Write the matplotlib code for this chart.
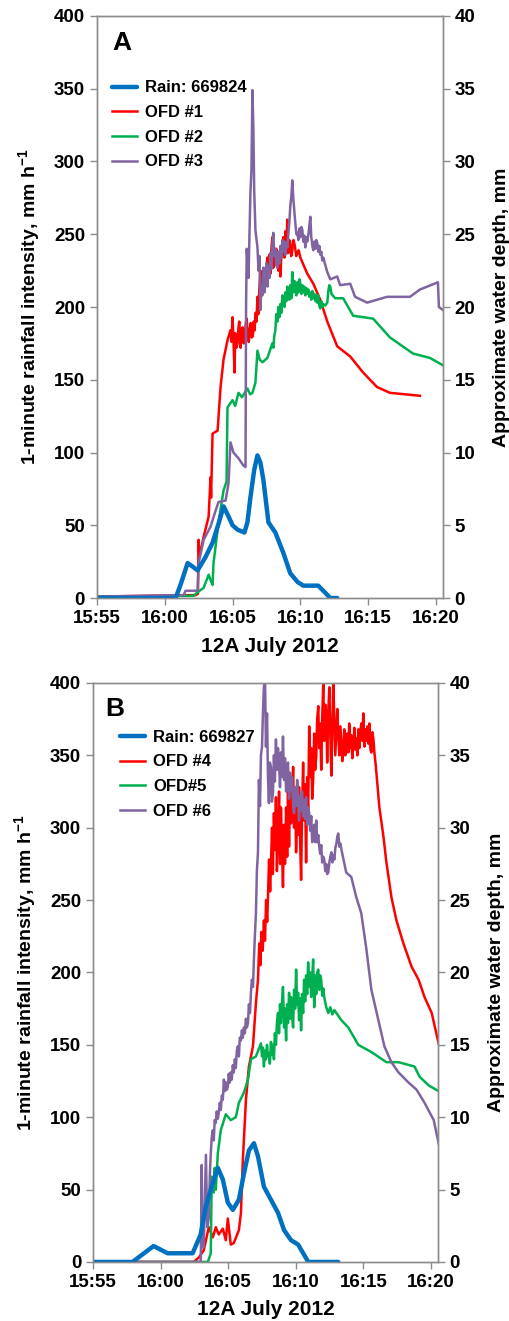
import matplotlib
matplotlib.use("Agg")
import matplotlib.pyplot as plt

plt.rcParams['font.family'] = ['Liberation Sans', 'DejaVu Sans']
plt.rcParams['font.weight'] = 'bold'
plt.rcParams['mathtext.fontset'] = 'custom'
plt.rcParams['mathtext.rm'] = 'Liberation Sans:bold'
plt.rcParams['mathtext.bf'] = 'Liberation Sans:bold'

# time in minutes after 15:55
tick_minutes = [0, 5, 10, 15, 20, 25]
tick_labels = ['15:55', '16:00', '16:05', '16:10', '16:15', '16:20']

# ---- panel A (rain in mm/h, OFD depth in mm) ----
rain_a_t = [0, 5.81, 6.2, 6.69, 7.0, 7.43, 8.0, 8.53, 9.0, 9.34, 9.71, 10.0, 10.37, 10.88, 11.1,
            11.32, 11.6, 11.84, 12.06, 12.28, 12.65, 13.16, 13.75, 14.26, 14.8, 15.22, 16.32, 16.8,
            17.21, 17.72]
rain_a = [0, 0, 10, 24, 22, 19, 28, 38, 52, 63, 56, 50, 47, 45, 52,
          69, 88, 98, 93, 81, 52, 45, 31, 17, 11, 8.5, 8.5, 4,
          0, 0]

ofd1_t = [0, 7.3, 7.45, 7.5, 7.55, 7.87, 8.24, 8.38, 8.42, 8.53, 8.9, 9.12, 9.34, 9.63,
          9.85, 9.93, 10.0, 10.07, 10.15, 10.2, 10.28, 10.37, 10.44, 10.5, 10.6, 10.67, 10.75,
          10.82, 10.9, 10.97, 11.05, 11.12, 11.2, 11.27, 11.35, 11.42, 11.5, 11.57, 11.63, 11.7,
          11.77, 11.84, 11.9, 11.98, 12.06, 12.13, 12.2, 12.28, 12.36, 12.43, 12.5, 12.57, 12.64,
          12.72, 12.8, 12.87, 12.94, 13.01, 13.08, 13.16, 13.23, 13.31, 13.38, 13.46, 13.53, 13.6,
          13.68, 13.75, 13.83, 13.9, 13.97, 14.04, 14.1, 14.18, 14.25, 14.33, 14.41, 14.5, 14.6,
          14.7, 14.78, 14.88, 15.0, 15.51, 15.96, 16.47, 16.99, 17.72, 18.68, 19.63, 20.66, 21.62,
          23.82]
ofd1 = [0.1, 0.2, 0.3, 4.0, 2.8, 4.2, 5.6, 8.3, 6.9, 11.3, 11.5, 14.5, 16.4, 17.7,
        18.4, 17.6, 19.3, 17.8, 15.5, 18.2, 17.2, 17.5, 18.6, 19.0, 17.2, 18.4, 18.6,
        17.5, 17.8, 18.8, 19.2, 18.0, 17.6, 18.5, 18.9, 17.9, 18.0, 19.0, 18.4, 19.6,
        19.0, 20.7, 19.5, 21.2, 22.5, 21.0, 21.0, 22.6, 21.2, 21.9, 22.8, 23.4, 22.0,
        23.6, 22.3, 24.0, 24.8, 22.7, 23.8, 22.9, 24.0, 23.4, 22.5, 23.6, 22.1, 23.5,
        24.2, 24.8, 23.4, 25.2, 24.0, 26.0, 23.7, 24.6, 24.5, 23.5, 23.9, 24.6, 24.2,
        23.5, 23.7, 23.9, 23.4, 22.3, 21.6, 20.5, 19.0, 17.3, 16.6, 15.5, 14.5, 14.1,
        13.9]

ofd2_t = [0, 7.13, 7.43, 7.87, 8.24, 8.4, 8.53, 8.6, 8.97, 9.34, 9.56, 9.63, 10.0, 10.2, 10.44,
          10.7, 11.1, 11.3, 11.47, 11.69, 11.84, 12.0, 12.21, 12.57, 12.94, 13.01, 13.08, 13.16,
          13.23, 13.31, 13.38, 13.46, 13.53, 13.6, 13.68, 13.75, 13.83, 13.9, 13.97, 14.04, 14.12,
          14.19, 14.26, 14.34, 14.41, 14.49, 14.56, 14.63, 14.71, 14.78, 14.86, 14.93, 15.0, 15.08,
          15.15, 15.22, 15.3, 15.37, 15.45, 15.52, 15.6, 15.67, 15.74, 15.81, 15.89, 15.96, 16.04,
          16.11, 16.18, 16.25, 16.32, 16.4, 16.47, 16.55, 16.62, 16.69, 16.84, 16.99, 17.08,
          17.14, 17.21, 17.3, 17.57, 18.16, 18.9, 20.37, 21.62, 23.31, 24.56, 25.51]
ofd2 = [0.1, 0.15, 0.4, 0.7, 1.6, 1.2, 0.9, 2.4, 5.2, 7.4, 8.0, 13.1, 13.6, 13.2, 14.1,
        13.8, 14.4, 14.0, 14.1, 14.8, 17.0, 16.4, 16.2, 16.5, 17.5, 17.2, 18.0, 18.4,
        19.5, 19.0, 20.0, 19.3, 20.2, 19.6, 20.8, 20.5, 20.0, 21.0, 20.4, 21.4, 21.2,
        20.5, 21.5, 20.6, 22.4, 21.0, 21.8, 21.3, 20.8, 21.7, 21.0, 21.9, 21.6, 20.9,
        21.5, 21.0, 21.4, 20.8, 21.3, 20.9, 21.2, 20.7, 21.0, 20.5, 21.1, 20.6, 20.9,
        20.4, 20.8, 20.3, 20.8, 20.1, 19.9, 20.4, 20.0, 20.2, 20.1, 20.3, 21.2,
        21.5, 21.4, 20.9, 20.6, 20.6, 19.4, 19.2, 17.9, 16.8, 16.5, 16.0]

ofd3_t = [0, 6.4, 6.54, 7.43, 7.5, 7.87, 8.38, 8.75, 8.97, 9.49, 9.71, 9.85, 10.07, 10.44, 10.81,
          10.96, 11.0, 11.05, 11.18, 11.32, 11.4, 11.47, 11.54, 11.6, 11.69, 11.84, 11.92, 11.99,
          12.06, 12.13, 12.2, 12.28, 12.35, 12.43, 12.5, 12.57, 12.64, 12.72, 12.79, 12.87, 12.94,
          13.01, 13.08, 13.16, 13.23, 13.31, 13.38, 13.46, 13.53, 13.6, 13.68, 13.75, 13.83, 13.9,
          13.97, 14.04, 14.12, 14.19, 14.26, 14.34, 14.41, 14.49, 14.56, 14.63, 14.71, 14.78,
          14.86, 14.93, 15.0, 15.08, 15.15, 15.22, 15.3, 15.37, 15.45, 15.52, 15.6, 15.67, 15.74,
          15.81, 15.89, 15.96, 16.04, 16.11, 16.18, 16.25, 16.33, 16.4, 16.47, 16.55, 16.62,
          16.69, 16.84, 16.99, 17.21, 17.72, 17.94, 18.68, 19.04, 19.93, 21.4, 23.09, 23.82,
          25.15, 25.22, 25.51]
ofd3 = [0.1, 0.2, 0.5, 0.5, 2.4, 4.0, 4.9, 6.0, 6.6, 6.7, 7.9, 10.7, 10.0, 9.6, 9.1,
        9.0, 20.0, 24.0, 22.0, 27.8, 29.5, 34.9, 32.2, 28.0, 25.3, 24.1, 22.5, 23.5,
        19.8, 21.5, 20.8, 22.7, 21.0, 22.2, 23.0, 21.4, 22.8, 22.0, 23.7, 22.6, 24.2,
        25.1, 23.5, 24.0, 22.9, 22.7, 23.8, 23.0, 24.2, 23.4, 24.6, 23.8, 24.5, 23.6,
        24.4, 24.1, 25.0, 25.8, 26.9, 27.6, 28.7, 27.4, 26.6, 25.8, 25.0, 25.1,
        24.6, 25.4, 24.8, 25.5, 25.3, 24.5, 24.9, 24.1, 24.8, 24.5, 25.0, 25.6, 26.2,
        24.8, 24.2, 23.9, 24.5, 24.0, 24.6, 24.4, 23.8, 24.2, 23.6, 23.8, 23.2,
        23.4, 22.9, 22.4, 21.9, 22.1, 21.5, 21.6, 20.7, 20.3, 20.7, 20.7, 21.2,
        21.7, 20.0, 19.8]

# ---- panel B ----
rain_b_t = [0, 2.92, 4.48, 5.52, 7.37, 7.96, 8.34, 8.71, 9.23, 9.6, 9.97, 10.34, 10.79, 11.16,
            11.53, 11.9, 12.2, 12.64, 13.16, 13.68, 14.13, 14.65, 15.17, 15.92, 18.14]
rain_b = [0, 0, 11, 6, 6, 19, 38, 50, 65, 57, 41, 36, 43, 61,
          77, 82, 73, 52, 43, 34, 22, 15, 12, 0, 0]

ofd4_t = [0, 7.45, 7.82, 8.19, 8.56, 8.86, 9.08, 9.3, 9.6, 9.82, 9.97, 10.19, 10.41, 10.79,
          10.94, 11.08, 11.31, 11.53, 11.83, 12.05, 12.2, 12.3, 12.38, 12.45, 12.55, 12.64, 12.72,
          12.8, 12.88, 12.94, 13.02, 13.1, 13.16, 13.24, 13.3, 13.38, 13.45, 13.53, 13.6, 13.68,
          13.76, 13.84, 13.9, 13.97, 14.05, 14.12, 14.2, 14.28, 14.36, 14.42, 14.5, 14.58, 14.65,
          14.72, 14.8, 14.87, 14.95, 15.02, 15.1, 15.17, 15.24, 15.32, 15.39, 15.46, 15.54, 15.61,
          15.68, 15.76, 15.84, 15.91, 15.99, 16.06, 16.14, 16.21, 16.28, 16.36, 16.43, 16.51,
          16.58, 16.66, 16.73, 16.8, 16.88, 16.95, 17.03, 17.1, 17.18, 17.25, 17.32, 17.4, 17.48,
          17.55, 17.63, 17.7, 17.77, 17.85, 17.92, 18.0, 18.07, 18.14, 18.22, 18.3, 18.37, 18.44,
          18.51, 18.58, 18.66, 18.73, 18.8, 18.88, 18.95, 19.03, 19.1, 19.18, 19.25, 19.33, 19.4,
          19.47, 19.55, 19.62, 19.7, 19.77, 19.84, 19.92, 19.99, 20.07, 20.14, 20.22, 20.29,
          20.37, 20.44, 20.52, 20.59, 20.66, 20.74, 20.81, 20.88, 20.96, 21.18, 21.48, 21.7,
          22.07, 22.44, 22.96, 23.56, 24.08, 24.52, 25.05, 25.56]
ofd4 = [0, 0, 0.3, 0.8, 2.4, 1.7, 2.4, 1.9, 2.3, 1.5, 3.0, 1.2, 1.3, 2.2,
        3.4, 7.0, 11.2, 13.5, 14.9, 17.9, 19.5, 22.0, 20.5, 22.8, 21.5, 23.6, 22.2,
        25.0, 23.5, 25.2, 27.8, 25.6, 27.6, 30.0, 26.8, 31.0, 28.5, 32.1, 27.0, 29.4,
        32.5, 27.5, 31.4, 29.0, 25.9, 30.2, 27.5, 31.4, 28.0, 32.5, 28.7, 33.0, 30.3,
        32.0, 34.2, 30.0, 32.5, 28.3, 31.5, 29.5, 32.8, 29.0, 26.4, 31.0, 34.5, 30.5,
        33.0, 27.6, 33.5, 31.0, 37.0, 33.5, 35.5, 32.0, 33.3, 36.5, 34.0, 34.9,
        37.5, 38.4, 35.5, 37.2, 34.0, 37.5, 40.0, 36.0, 38.5, 37.9, 34.5, 38.0, 39.7,
        36.5, 33.6, 37.0, 40.0, 37.5, 35.0, 36.8, 38.2, 36.5, 35.0, 37.0, 35.8, 34.6,
        35.2, 36.8, 35.0, 35.9, 36.5, 35.2, 37.2, 35.5, 36.4, 34.8, 35.6, 36.9, 35.4,
        36.2, 35.0, 36.8, 35.5, 36.6, 37.2, 36.0, 37.9, 35.6, 36.8, 36.0, 37.0,
        35.8, 37.2, 35.4, 35.2, 36.6, 36.1, 35.2, 34.6, 33.8, 31.4, 29.4, 27.6,
        25.2, 23.6, 22.0, 20.4, 19.5, 18.3, 17.2, 15.1]

ofd5_t = [0, 8.49, 8.71, 8.78, 8.93, 9.0, 9.08, 9.23, 9.45, 9.82, 10.19, 10.56, 10.79, 11.16,
          11.46, 11.68, 12.05, 12.42, 12.5, 12.57, 12.64, 12.72, 12.79, 12.87, 12.94, 13.01, 13.08,
          13.16, 13.23, 13.31, 13.38, 13.45, 13.53, 13.6, 13.68, 13.76, 13.83, 13.9, 13.98, 14.05,
          14.13, 14.2, 14.28, 14.35, 14.42, 14.5, 14.57, 14.65, 14.72, 14.8, 14.87, 14.95, 15.02,
          15.1, 15.17, 15.24, 15.32, 15.39, 15.46, 15.54, 15.61, 15.69, 15.76, 15.84, 15.91, 15.99,
          16.06, 16.14, 16.21, 16.28, 16.36, 16.43, 16.51, 16.58, 16.66, 16.73, 16.8, 16.88,
          16.95, 17.03, 17.1, 17.25, 17.4, 17.55, 17.7, 17.85, 18.37, 18.88, 19.62, 20.59, 21.7,
          22.59, 23.78, 24.15, 24.82, 25.56]
ofd5 = [0, 0, 0.6, 5.9, 4.8, 6.5, 5.0, 7.5, 9.1, 10.2, 9.8, 10.0, 11.0, 11.7,
        12.6, 14.0, 14.2, 15.1, 14.2, 14.8, 13.5, 14.6, 14.0, 15.0, 14.2, 14.4, 13.7,
        15.2, 14.3, 15.0, 14.0, 15.8, 15.0, 16.5, 17.2, 15.8, 17.8, 16.5, 18.0, 19.0,
        16.2, 17.5, 15.3, 17.8, 16.5, 18.6, 16.8, 18.3, 17.0, 16.2, 18.8, 17.5, 20.2,
        17.8, 18.6, 16.7, 18.2, 16.0, 18.5, 17.2, 19.5, 18.0, 19.8, 18.5, 20.7, 19.0,
        20.0, 18.3, 19.6, 20.9, 17.6, 19.8, 18.5, 20.0, 20.2, 18.8, 19.8, 19.5,
        18.4, 18.9, 18.3, 17.6, 17.2, 17.6, 17.1, 17.4, 16.7, 16.2, 15.0, 14.5, 13.8,
        13.8, 13.5, 12.8, 12.2, 11.8]

ofd6_t = [0, 7.97, 8.04, 8.1, 8.19, 8.35, 8.45, 8.56, 8.64, 8.71, 8.78, 8.86, 8.93, 9.0, 9.08,
          9.15, 9.23, 9.3, 9.38, 9.45, 9.53, 9.6, 9.68, 9.75, 9.82, 9.9, 9.97, 10.04, 10.12, 10.19,
          10.26, 10.34, 10.41, 10.49, 10.56, 10.64, 10.71, 10.79, 10.86, 10.94, 11.01, 11.08,
          11.16, 11.23, 11.31, 11.38, 11.46, 11.53, 11.61, 11.68, 11.75, 11.83, 11.9, 11.97,
          12.05, 12.12, 12.2, 12.27, 12.35, 12.42, 12.5, 12.57, 12.64, 12.72, 12.79, 12.87, 12.94,
          13.01, 13.08, 13.16, 13.23, 13.31, 13.38, 13.45, 13.53, 13.6, 13.68, 13.76, 13.83, 13.9,
          13.98, 14.05, 14.13, 14.2, 14.28, 14.35, 14.42, 14.5, 14.57, 14.65, 14.72, 14.8, 14.87,
          14.95, 15.02, 15.1, 15.17, 15.24, 15.32, 15.39, 15.46, 15.54, 15.61, 15.68, 15.76,
          15.84, 15.91, 15.99, 16.06, 16.14, 16.21, 16.28, 16.36, 16.43, 16.51, 16.58, 16.66,
          16.73, 16.8, 16.88, 16.95, 17.03, 17.1, 17.18, 17.25, 17.32, 17.4, 17.48, 17.55, 17.63,
          17.7, 17.77, 17.85, 17.92, 18.0, 18.07, 18.14, 18.22, 18.3, 18.37, 18.73, 19.1, 19.47,
          19.84, 20.22, 20.59, 21.11, 21.55, 22.07, 22.59, 23.33, 23.93, 24.52, 25.2, 25.56]
ofd6 = [0, 0, 6.7, 1.0, 1.0, 7.4, 2.4, 3.0, 6.0, 7.5, 8.6, 9.1, 8.4, 9.8, 9.6,
        10.4, 9.9, 10.3, 11.0, 10.5, 11.5, 11.2, 12.6, 11.8, 12.4, 11.9, 12.1, 13.0, 12.4, 13.1,
        12.6, 13.6, 13.1, 14.0, 13.4, 14.6, 14.9, 14.2, 15.5, 15.3, 16.0, 15.5,
        16.2, 15.8, 16.8, 16.2, 16.5, 17.8, 17.2, 18.6, 19.5, 19.0, 20.9, 22.5,
        24.1, 27.0, 28.3, 33.3, 31.5, 35.0, 35.6, 38.0, 39.7, 40.5, 35.6, 37.9, 33.5,
        31.7, 34.5, 34.2, 31.8, 32.4, 35.0, 33.2, 36.1, 34.0, 35.5, 34.5, 32.8, 35.2,
        33.5, 36.3, 33.3, 34.8, 32.5, 34.0, 34.5, 32.0, 33.8, 32.6, 33.5, 31.5, 31.0,
        32.8, 31.5, 33.3, 32.1, 30.5, 32.2, 31.2, 32.5, 30.8, 31.9, 30.6, 32.1,
        30.2, 31.4, 31.0, 29.8, 30.8, 29.0, 29.2, 30.2, 29.0, 30.5, 29.0, 29.5,
        28.7, 28.2, 28.8, 27.6, 28.0, 27.8, 27.0, 27.5, 26.8, 26.9, 27.6, 28.0, 28.3,
        27.6, 28.1, 27.8, 28.6, 28.9, 29.4, 29.6, 28.7, 28.9, 28.5, 26.9, 26.6, 25.2,
        24.1, 21.6, 18.8, 16.7, 14.9, 13.8, 13.1, 12.4, 11.9, 11.0, 9.8, 8.2]

rain_color = '#0070C0'
ofd_colors = ['#FF0000', '#00B050', '#8064A2']
spine_color = '#8C8C8C'

fig = plt.figure(figsize=(5.10, 13.21), dpi=100)


def draw_panel(rect, letter, letter_x, leg_anchor, rain_t, rain, rain_label, series, labels):
    ax = fig.add_axes(rect)
    ax2 = ax.twinx()
    # rain on top of the depth traces
    ax.set_zorder(ax2.get_zorder() + 1)
    ax.patch.set_visible(False)

    handles = []
    for (t, d), lab, c in zip(series, labels, ofd_colors):
        h, = ax2.plot(t, d, color=c, lw=1.8, label=lab)
        handles.append(h)
    hr, = ax.plot(rain_t, rain, color=rain_color, lw=3.2, label=rain_label,
                  solid_joinstyle='round', solid_capstyle='round')

    ax.set_xlim(0, 25.5)
    ax.set_ylim(0, 400)
    ax2.set_ylim(0, 40)
    ax.set_yticks(range(0, 401, 50))
    ax2.set_yticks(range(0, 41, 5))
    ax.set_xticks(tick_minutes)
    ax.set_xticklabels(tick_labels)

    for a in (ax, ax2):
        for s in a.spines.values():
            s.set_color(spine_color)
            s.set_linewidth(1.0)
        a.tick_params(colors=spine_color, labelcolor='black', labelsize=13.5,
                      length=5, width=1.0, direction='out')

    ax.set_ylabel('1-minute rainfall intensity, mm h$^{-1}$', fontsize=14,
                  fontweight='bold', labelpad=8)
    ax2.set_ylabel('Approximate water depth, mm', fontsize=14,
                   fontweight='bold', labelpad=13)
    ax.set_xlabel('12A July 2012', fontsize=15, fontweight='bold', labelpad=7)

    ax.text(letter_x, 0.975, letter, transform=ax.transAxes, fontsize=19,
            fontweight='bold', va='top', ha='left')
    ax.legend([hr] + handles, [rain_label] + labels, loc='upper left',
              bbox_to_anchor=leg_anchor, frameon=False, fontsize=12,
              handlelength=1.5, handletextpad=0.5, labelspacing=0.58)


draw_panel([0.190, 0.5473, 0.678, 0.4406], 'A', 0.045, (0.0, 0.915),
           rain_a_t, rain_a, 'Rain: 669824',
           [(ofd1_t, ofd1), (ofd2_t, ofd2), (ofd3_t, ofd3)],
           ['OFD #1', 'OFD #2', 'OFD #3'])
draw_panel([0.1824, 0.0447, 0.676, 0.4383], 'B', 0.035, (0.035, 0.945),
           rain_b_t, rain_b, 'Rain: 669827',
           [(ofd4_t, ofd4), (ofd5_t, ofd5), (ofd6_t, ofd6)],
           ['OFD #4', 'OFD#5', 'OFD #6'])

fig.savefig('out.png', dpi=100)
